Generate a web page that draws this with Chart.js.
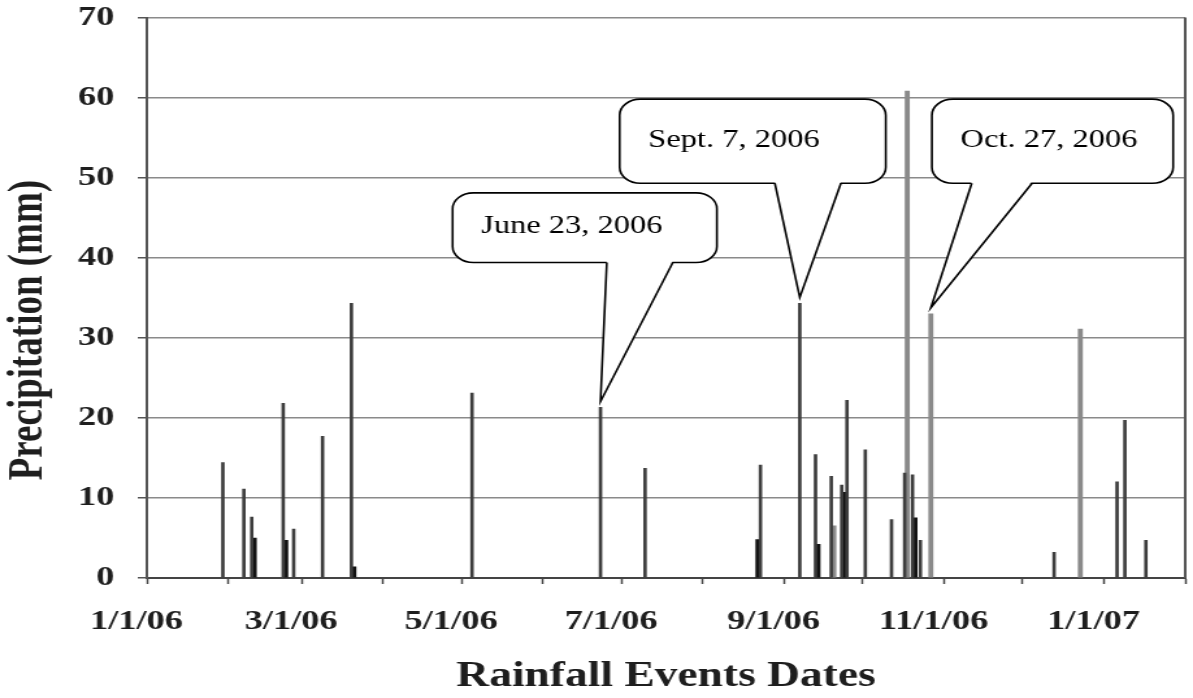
<!DOCTYPE html>
<html>
<head>
<meta charset="utf-8">
<title>Rainfall events 2006</title>
<script src="https://cdn.jsdelivr.net/npm/chart.js@4.4.1/dist/chart.umd.min.js"></script>
<style>
  body { margin: 0; background: #fff; }
</style>
</head>
<body>
<!-- canvas is drawn narrow and stretched wide, like the printed figure -->
<canvas id="rain-chart" width="918" height="698" style="width:1193px;height:698px;display:block"></canvas>
<script>
'use strict';

// rainfall events (dark bars)
let eventDates = ['2006-01-30', '2006-02-07', '2006-02-10', '2006-02-22', '2006-02-26', '2006-03-09',
  '2006-03-20', '2006-05-05', '2006-06-23', '2006-07-10', '2006-08-23', '2006-09-07', '2006-09-13',
  '2006-09-19', '2006-09-23', '2006-09-25', '2006-10-02', '2006-10-12', '2006-10-17', '2006-10-20',
  '2006-10-23', '2006-12-13', '2007-01-06', '2007-01-09', '2007-01-17'];
let eventMm = [14.4, 11.1, 7.6, 21.8, 6.1, 17.7,
  34.3, 23.1, 21.3, 13.7, 14.1, 34.3, 15.4,
  12.7, 11.6, 22.2, 16.0, 7.3, 13.1, 12.9,
  4.7, 3.2, 12.0, 19.7, 4.7];

// second set of readings (black bars)
let gaugeDates = ['2006-02-11', '2006-02-23', '2006-03-21', '2006-08-22', '2006-09-14', '2006-09-24', '2006-10-21'];
let gaugeMm = [5.0, 4.7, 1.4, 4.8, 4.2, 10.7, 7.5];

// the grey bars
let stormDates = ['2006-09-20', '2006-10-18', '2006-10-27', '2006-12-23'];
let stormMm = [6.5, 60.8, 33.0, 31.1];

// x axis: a tick on every month, a label every other month
let monthTicks = ['2006-01-01', '2006-02-01', '2006-03-01', '2006-04-01', '2006-05-01', '2006-06-01', '2006-07-01',
  '2006-08-01', '2006-09-01', '2006-10-01', '2006-11-01', '2006-12-01', '2007-01-01', '2007-02-01'];
let tickLabels = ['1/1/06', '', '3/1/06', '', '5/1/06', '', '7/1/06', '', '9/1/06', '', '11/1/06', '', '1/1/07', ''];

// callouts
let calloutDates = ['2006-06-23', '2006-09-07', '2006-10-27'];
let calloutText = ['June 23, 2006', 'Sept. 7, 2006', 'Oct. 27, 2006'];

// callout boxes in days / mm, with where the pointer leaves the box
let calloutBoxes = [
  {x0: 116.6, x1: 217.4, y0: 48.1, y1: 39.4, base0: 175.4, base1: 200.6},
  {x0: 180.3, x1: 281.8, y0: 59.8, y1: 49.3, base0: 239.5, base1: 264.7},
  {x0: 299.4, x1: 391.4, y0: 59.8, y1: 49.3, base0: 314.6, base1: 337.6}
];

const START = Date.UTC(2006, 0, 1);
function dayOf(str){
  let p = str.split('-');
  return (Date.UTC(+p[0], +p[1] - 1, +p[2]) - START) / 86400000;
}

function toPoints(dates, values){
  let pts = [];
  for (let i = 0; i < dates.length; i++){
    pts.push({x: dayOf(dates[i]), y: values[i]});
  }
  return pts;
}

function valueOn(date){
  let all = [[eventDates, eventMm], [gaugeDates, gaugeMm], [stormDates, stormMm]];
  for (let i = 0; i < all.length; i++){
    let idx = all[i][0].indexOf(date);
    if (idx >= 0) return all[i][1][idx];
  }
  return 0;
}

const SERIF = "'Liberation Serif', 'Times New Roman', serif";

// right edge of the frame + the speech bubbles
const calloutPlugin = {
  id: 'callouts',
  afterDatasetsDraw(chart){
    let ctx = chart.ctx;
    let area = chart.chartArea;
    let xs = chart.scales.x;
    let ys = chart.scales.y;

    ctx.save();
    ctx.strokeStyle = '#555';
    ctx.lineWidth = 2;
    ctx.beginPath();
    ctx.moveTo(area.right, area.top);
    ctx.lineTo(area.right, area.bottom);
    ctx.stroke();

    for (let i = 0; i < calloutDates.length; i++){
      let box = calloutBoxes[i];
      let left = xs.getPixelForValue(box.x0);
      let right = xs.getPixelForValue(box.x1);
      let top = ys.getPixelForValue(box.y0);
      let bottom = ys.getPixelForValue(box.y1);
      let b0 = xs.getPixelForValue(box.base0);
      let b1 = xs.getPixelForValue(box.base1);
      let tipX = xs.getPixelForValue(dayOf(calloutDates[i]));
      let tipY = ys.getPixelForValue(valueOn(calloutDates[i])) - 6;

      ctx.beginPath();
      ctx.roundRect(left, top, right - left, bottom - top, 16);
      ctx.fillStyle = '#fff';
      ctx.fill();
      ctx.strokeStyle = '#000';
      ctx.lineWidth = 1.6;
      ctx.stroke();

      // pointer, cut into the bottom edge
      ctx.beginPath();
      ctx.moveTo(b0, bottom - 2);
      ctx.lineTo(tipX, tipY);
      ctx.lineTo(b1, bottom - 2);
      ctx.closePath();
      ctx.fill();
      ctx.beginPath();
      ctx.moveTo(b0, bottom);
      ctx.lineTo(tipX, tipY);
      ctx.lineTo(b1, bottom);
      ctx.stroke();

      ctx.fillStyle = '#000';
      ctx.font = '25px ' + SERIF;
      ctx.textAlign = 'left';
      ctx.textBaseline = 'middle';
      ctx.fillText(calloutText[i], left + 22, (top + bottom) / 2 - 1);
    }
    ctx.restore();
  }
};

const ctx = document.getElementById('rain-chart').getContext('2d');

new Chart(ctx, {
  type: 'bar',
  data: {
    datasets: [{
      label: 'Rainfall',
      data: toPoints(eventDates, eventMm),
      backgroundColor: '#3d3d3d',
      barThickness: 2,
      grouped: false
    },
    {
      label: 'Gauge 2',
      data: toPoints(gaugeDates, gaugeMm),
      backgroundColor: '#111',
      barThickness: 3,
      grouped: false
    },
    {
      label: 'Storms',
      data: toPoints(stormDates, stormMm),
      backgroundColor: '#8a8a8a',
      barThickness: 3.2,
      grouped: false
    }]
  },
  options: {
    responsive: false,
    animation: false,
    devicePixelRatio: 1,
    layout: { padding: { left: 0, right: 6, top: 0, bottom: 0 } },
    plugins: {
      legend: { display: false },
      tooltip: { enabled: false }
    },
    scales: {
      x: {
        type: 'linear',
        min: 0,
        max: dayOf('2007-02-01'),
        offset: false,
        afterBuildTicks: function(scale){
          scale.ticks = monthTicks.map(d => ({value: dayOf(d)}));
        },
        afterFit: function(scale){
          scale.height = 120;
          scale.paddingLeft = 0;
          scale.paddingRight = 0;
        },
        ticks: {
          autoSkip: false,
          maxRotation: 0,
          labelOffset: -8,
          padding: 21,
          color: '#1e1e1e',
          font: { family: SERIF, size: 28, weight: 'bold' },
          callback: function(value, index){ return tickLabels[index]; }
        },
        grid: {
          offset: false,
          drawOnChartArea: false,
          tickLength: 6,
          tickColor: '#444',
          tickWidth: 1.5
        },
        border: { color: '#444', width: 2 },
        title: {
          display: true,
          text: 'Rainfall Events Dates',
          color: '#1e1e1e',
          font: { family: SERIF, size: 35, weight: 'bold' },
          padding: { top: 0, bottom: 0 }
        }
      },
      y: {
        min: 0,
        max: 70,
        afterFit: function(scale){
          scale.width = 113;
          scale.paddingTop = 17.5;
          scale.paddingBottom = 0;
        },
        ticks: {
          stepSize: 10,
          padding: 18,
          color: '#1e1e1e',
          font: { family: SERIF, size: 28, weight: 'bold' }
        },
        grid: {
          color: '#8a8a8a',
          lineWidth: 1.5,
          tickLength: 7,
          tickColor: '#555'
        },
        border: { color: '#555', width: 2 },
        title: {
          display: true,
          // trailing spaces push the title a little lower on the axis
          text: 'Precipitation (mm)       ',
          color: '#1e1e1e',
          font: { family: SERIF, size: 37, weight: 'bold' },
          padding: { top: 0, bottom: 0 }
        }
      }
    }
  },
  plugins: [calloutPlugin]
});
</script>
</body>
</html>
